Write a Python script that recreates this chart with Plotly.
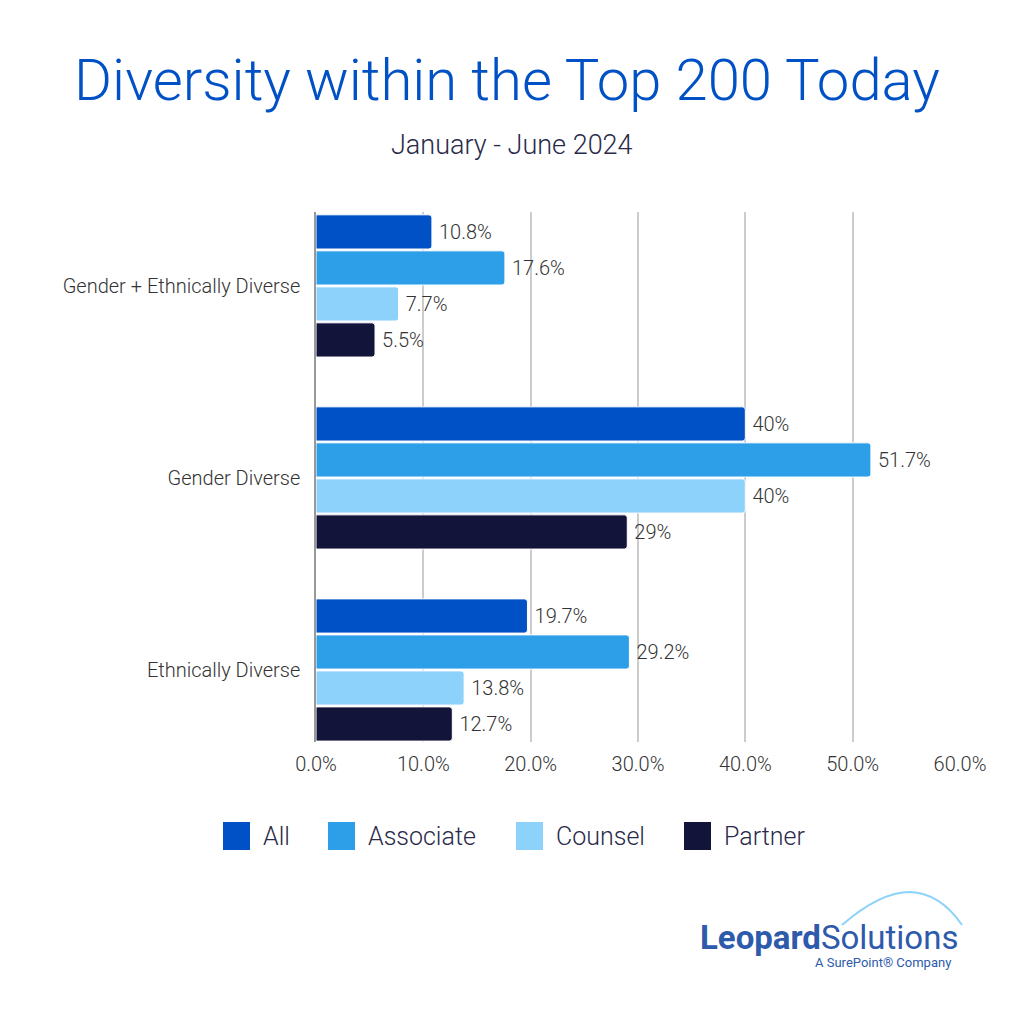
import plotly.graph_objects as go

categories = ["Ethnically Diverse", "Gender Diverse", "Gender + Ethnically Diverse"]
series_names = ["All", "Associate", "Counsel", "Partner"]
all_vals = [19.7, 40.0, 10.8]
associate_vals = [29.2, 51.7, 17.6]
counsel_vals = [13.8, 40.0, 7.7]
partner_vals = [12.7, 29.0, 5.5]
label_all = ["19.7%", "40%", "10.8%"]
label_associate = ["29.2%", "51.7%", "17.6%"]
label_counsel = ["13.8%", "40%", "7.7%"]
label_partner = ["12.7%", "29%", "5.5%"]
tick_vals = [0, 10, 20, 30, 40, 50, 60]
tick_text = ["0.0%", "10.0%", "20.0%", "30.0%", "40.0%", "50.0%", "60.0%"]

colors = {"All": "#0050C6", "Associate": "#2D9FE9", "Counsel": "#8DD2FB", "Partner": "#12143A"}
series = [
    ("All", all_vals, label_all),
    ("Associate", associate_vals, label_associate),
    ("Counsel", counsel_vals, label_counsel),
    ("Partner", partner_vals, label_partner),
]

FONT = "Roboto"
L, R, T, B = 316, 64, 212, 282
plot_h = 1024 - T - B
plot_w = 1024 - L - R


def px_x(px):
    return (px - L) / plot_w


def px_y(py):
    return (1024 - B - py) / plot_h


fig = go.Figure()
# add in reverse so "All" sits on top within each group
for rank, (name, vals, labs) in reversed(list(enumerate(series))):
    fig.add_trace(go.Bar(
        y=categories, x=vals, name=name, orientation="h",
        marker=dict(color=colors[name], line=dict(color="white", width=1), cornerradius=3),
        text=["\u2009" + t for t in labs], textposition="outside", cliponaxis=False,
        textfont=dict(family=FONT, size=20, color="#333333", weight=300),
        legendrank=rank + 1, showlegend=False,
        hoverinfo="skip",
    ))

annotations = [
    dict(text="January - June 2024", x=px_x(512), xref="paper", xanchor="center",
         y=px_y(145), yref="paper", yanchor="middle", showarrow=False,
         font=dict(family=FONT, size=27, color="#2A2A4A", weight=300)),
    dict(text="<b>Leopard</b>Solutions", xref="paper", yref="paper",
         x=px_x(698), y=px_y(937), xanchor="left", yanchor="middle", showarrow=False,
         font=dict(family=FONT, size=33, color="#2E5AAC")),
    dict(text="A SurePoint® Company", xref="paper", yref="paper",
         x=px_x(953), y=px_y(962), xanchor="right", yanchor="middle", showarrow=False,
         font=dict(family=FONT, size=13, color="#2E5AAC")),
]
shapes = []

# custom legend (big squares as in reference)
legend_sq_x = [223, 328, 516, 684]
for (name, _, _), sx in zip(series, legend_sq_x):
    shapes.append(dict(type="rect", xref="paper", yref="paper",
                       x0=px_x(sx), x1=px_x(sx + 27), y0=px_y(850), y1=px_y(822),
                       fillcolor=colors[name], line=dict(width=0)))
    annotations.append(dict(text=name, xref="paper", yref="paper",
                            x=px_x(sx + 38), y=px_y(836), xanchor="left", yanchor="middle",
                            showarrow=False,
                            font=dict(family=FONT, size=25, color="#2A2A4A", weight=300)))

# leopard outline hint above the logo
shapes.append(dict(type="path", xref="paper", yref="paper",
                   path=f"M {px_x(842)},{px_y(925)} Q {px_x(880)},{px_y(892)} {px_x(910)},{px_y(892)} "
                        f"Q {px_x(940)},{px_y(893)} {px_x(962)},{px_y(925)}",
                   line=dict(color="#8DD2FB", width=2)))

fig.update_layout(
    width=1024, height=1024,
    paper_bgcolor="white", plot_bgcolor="white",
    margin=dict(l=L, r=R, t=T, b=B),
    barmode="group", bargap=0.25, bargroupgap=0.05,
    font=dict(family=FONT, color="#333333"),
    title=dict(
        text="Diversity within the Top 200 Today",
        x=507 / 1024, xanchor="center", y=1 - 80 / 1024, yanchor="middle",
        font=dict(family=FONT, size=58, color="#0050C6", weight=300),
    ),
    showlegend=False,
    xaxis=dict(
        range=[0, 60], tickvals=tick_vals, ticktext=tick_text,
        showgrid=True, gridcolor="#CCCCCC", gridwidth=1.5,
        zeroline=False, showline=False,
        tickfont=dict(family=FONT, size=20, color="#333333", weight=300),
        ticks="", ticklabelstandoff=8,
    ),
    yaxis=dict(
        type="category", range=[-0.375, 2.385],
        showgrid=False, showline=True, linecolor="#999999", linewidth=1.5,
        ticks="", tickfont=dict(family=FONT, size=20, color="#333333", weight=300),
        ticklabelstandoff=10,
    ),
    annotations=annotations,
    shapes=shapes,
)

fig.write_html("out.html", config={"displayModeBar": False},
               post_script="document.body.style.margin='0';document.body.style.padding='0';")
